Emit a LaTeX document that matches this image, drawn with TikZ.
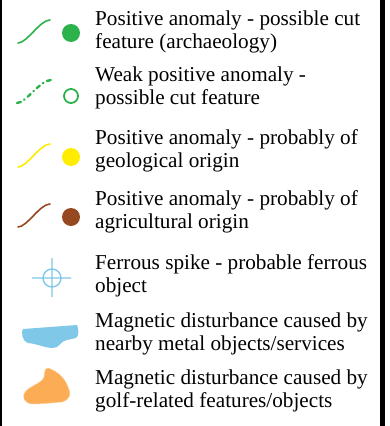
\documentclass[tikz,border=0pt]{standalone}
\usepackage{fontspec}
\setmainfont{Liberation Serif}
\usetikzlibrary{positioning}
\definecolor{legGreen}{RGB}{44,178,75}
\definecolor{legYellow}{RGB}{255,236,0}
\definecolor{legBrown}{RGB}{150,72,32}
\definecolor{legBlue}{RGB}{128,200,232}
\definecolor{legOrange}{RGB}{252,172,84}

\begin{document}
\begin{tikzpicture}[x=1pt, y=-1pt,
  legtext/.style={anchor=base west, align=left, inner sep=0pt,
                  font=\fontsize{21.2}{22.5}\selectfont},
  anomaly/.style={line width=1.6pt, line cap=round}]
\useasboundingbox (0,0) rectangle (390,426);
% frame edges
\fill[black] (0,0) rectangle (1.5,426);
\fill[black] (380,0) rectangle (385,426);

% legend texts (placed by the baseline of their second line)
\foreach \yy/\name/\txt in {
   48/posCut/{Positive anomaly - possible cut\\feature (archaeology)},
   104/weakCut/{Weak positive anomaly -\\possible cut feature},
   167/geol/{Positive anomaly - probably of\\geological origin},
   228/agri/{Positive anomaly - probably of\\agricultural origin},
   292/ferrous/{Ferrous spike - probable ferrous\\object},
   350/metal/{Magnetic disturbance caused by\\nearby metal objects/services},
   407/golf/{Magnetic disturbance caused by\\golf-related features/objects}}
{
  \node[legtext] (t\name) at (95,\yy) {\txt};
}

% solid anomalies: curve and dot
\foreach \yy/\colour in {33/legGreen, 157/legYellow, 217/legBrown}
{
  \draw[anomaly, draw=\colour] (18,\yy+10) .. controls (27,\yy+10) and (40,\yy-13) .. (50,\yy-13);
  \fill[\colour] (71,\yy) circle (9);
}

% weak anomaly
\draw[legGreen, line width=2.4pt, line cap=round,
      dash pattern=on 4pt off 4pt on 0.5pt off 4pt]
  (17,103) .. controls (26,103) and (40,80) .. (51,80);
\draw[legGreen, line width=1.8pt] (71,96) circle (7);

% ferrous spike
\draw[legBlue, line width=1.4pt] (52,278) circle (9)
  (32,278) -- (71,278) (52,258) -- (52,297);

% metal disturbance
\fill[legBlue] (23,329) -- (77,325) .. controls (79,330) and (79,336) .. (76,338)
  -- (67,340) .. controls (60,341) and (60,348) .. (53,348)
  .. controls (45,348) and (38,344) .. (28,343)
  .. controls (22,342) and (21,331) .. (23,329) -- cycle;

% golf disturbance
\filldraw[fill=legOrange, draw=legOrange!60, line width=0.5pt]
  (48,368) .. controls (56,371) and (64,376) .. (68,387)
  .. controls (71,394) and (71,399) .. (62,402)
  .. controls (50,403) and (40,404) .. (32,404)
  .. controls (24,403) and (21,397) .. (26,391)
  .. controls (32,385) and (42,383) .. (44,377)
  .. controls (45,372) and (44,369) .. (48,368) -- cycle;
\end{tikzpicture}
\end{document}
